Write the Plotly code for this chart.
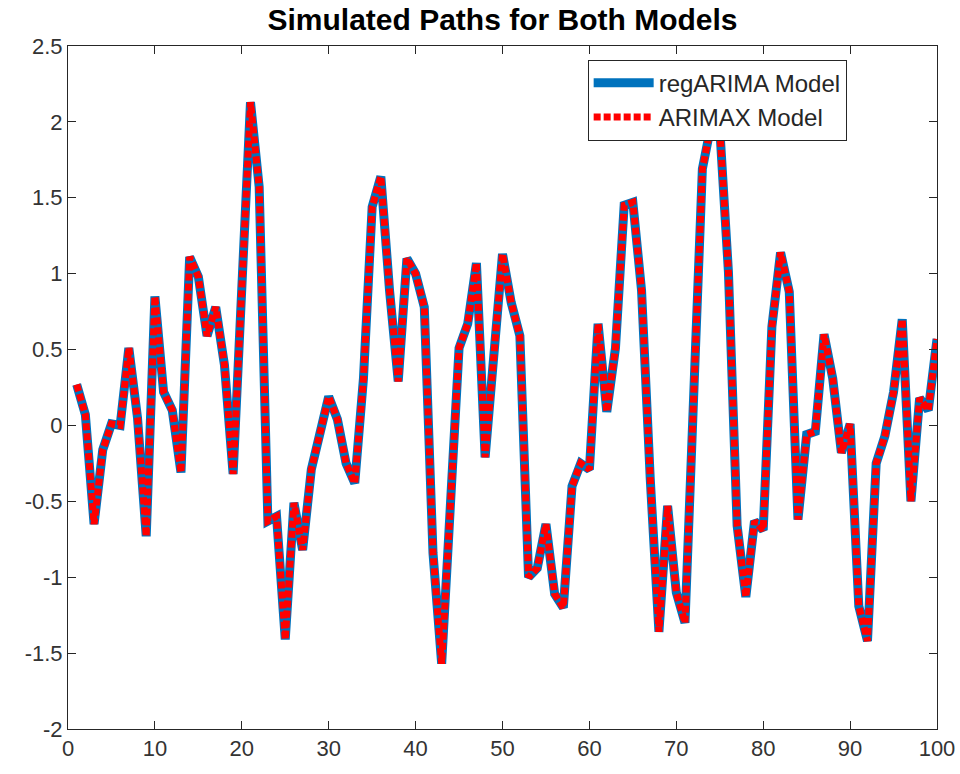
import plotly.graph_objects as go

# Simulated path, both models give the same path
t = list(range(1, 101))
path = [
    0.27, 0.07, -0.65, -0.16, 0.01, 0.00, 0.51, 0.05, -0.73, 0.85,
    0.22, 0.10, -0.31, 1.11, 0.98, 0.59, 0.78, 0.40, -0.32, 0.95,
    2.13, 1.57, -0.63, -0.60, -1.41, -0.51, -0.82, -0.29, -0.04, 0.19,
    0.04, -0.25, -0.38, 0.31, 1.44, 1.64, 0.89, 0.29, 1.10, 1.00,
    0.78, -0.84, -1.57, -0.55, 0.51, 0.67, 1.07, -0.21, 0.48, 1.13,
    0.81, 0.59, -1.00, -0.94, -0.65, -1.11, -1.20, -0.40, -0.25, -0.29,
    0.67, 0.09, 0.51, 1.45, 1.47, 0.89, -0.35, -1.36, -0.53, -1.10,
    -1.30, 0.30, 1.69, 1.98, 1.96, 1.01, -0.66, -1.13, -0.63, -0.69,
    0.65, 1.14, 0.88, -0.62, -0.06, -0.04, 0.60, 0.31, -0.18, 0.01,
    -1.19, -1.42, -0.25, -0.07, 0.22, 0.70, -0.50, 0.18, 0.10, 0.57,
]
reg_arima = path
arimax = path

x_ticks = [0, 10, 20, 30, 40, 50, 60, 70, 80, 90, 100]
y_ticks = [-2, -1.5, -1, -0.5, 0, 0.5, 1, 1.5, 2, 2.5]
y_labels = ["-2", "-1.5", "-1", "-0.5", "0", "0.5", "1", "1.5", "2", "2.5"]

font = "Liberation Sans, Arial, sans-serif"
axis_color = "#262626"

fig = go.Figure()
fig.add_trace(go.Scatter(x=t, y=reg_arima, mode="lines", name="regARIMA Model",
                         line=dict(color="#0072BD", width=9)))
fig.add_trace(go.Scatter(x=t, y=arimax, mode="lines", name="ARIMAX Model",
                         line=dict(color="#FF0000", width=7, dash="7px,3px")))

axis_common = dict(showgrid=False, zeroline=False, showline=True, linecolor=axis_color,
                   linewidth=1, mirror="ticks", ticks="inside", ticklen=8, automargin=False,
                   tickcolor=axis_color, tickfont=dict(family=font, size=22, color="#333333"))

fig.update_xaxes(range=[0, 100], tickvals=x_ticks, **axis_common)
fig.update_yaxes(range=[-2, 2.5], tickvals=y_ticks, ticktext=y_labels, **axis_common)

fig.update_layout(
    width=960, height=774,
    margin=dict(l=68, r=23, t=46, b=45),
    paper_bgcolor="white", plot_bgcolor="white",
    title=dict(text="<b>Simulated Paths for Both Models</b>", xref="paper", x=0.5,
               xanchor="center", y=0.975, yanchor="middle", automargin=False,
               font=dict(family=font, size=30, color="black")),
    legend=dict(x=0.598, y=0.98, xanchor="left", yanchor="top",
                bgcolor="white", bordercolor=axis_color, borderwidth=1,
                font=dict(family=font, size=24, color=axis_color),
                tracegroupgap=0, itemwidth=60),
    showlegend=True,
)

# drop the default 8px body margin so the figure fills the window exactly
fig.write_html("out.html", config={"displayModeBar": False},
               post_script="document.body.style.margin='0';")
